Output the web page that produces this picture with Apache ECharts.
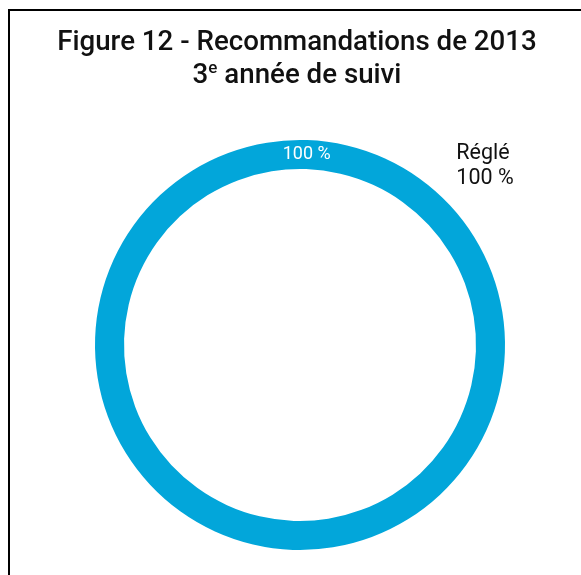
<!DOCTYPE html>
<html>
<head>
<meta charset="utf-8">
<script src="https://cdn.jsdelivr.net/npm/echarts@6/dist/echarts.min.js"></script>
<style>
html,body{margin:0;padding:0;background:#fff;}
#chart{width:581px;height:575px;}
</style>
</head>
<body>
<div id="chart"></div>
<script>
const categories = ['Réglé'];
const values = [100];
const percentLabels = ['100 %'];
const titleLines = ['Figure 12 - Recommandations de 2013', '3{sup|e} année de suivi'];
const ringColor = '#02A6DA';

const chart = echarts.init(document.getElementById('chart'), null, {renderer: 'canvas'});
const data = categories.map((c, i) => ({name: c, value: values[i], pct: percentLabels[i]}));

chart.setOption({
  animation: false,
  backgroundColor: '#fff',
  graphic: [{
    type: 'rect',
    shape: {x: 9, y: 10, width: 700, height: 700},
    style: {fill: 'none', stroke: '#000', lineWidth: 2},
    silent: true
  }],
  title: {
    text: titleLines.join('\n'),
    left: 292,
    top: 22,
    textAlign: 'center',
    textStyle: {
      fontFamily: 'Roboto',
      fontSize: 27.7,
      fontWeight: 500,
      color: '#111',
      lineHeight: 33,
      rich: {
        sup: {fontFamily: 'Roboto', fontSize: 17, fontWeight: 500, color: '#111', verticalAlign: 'top', lineHeight: 24}
      }
    }
  },
  series: [{
    type: 'pie',
    center: [300, 345],
    radius: [176, 205],
    startAngle: 268,
    silent: true,
    itemStyle: {color: ringColor},
    label: {
      show: true,
      position: 'inside',
      formatter: p => p.data.pct,
      color: '#fff',
      fontFamily: 'Roboto',
      fontSize: 18
    },
    labelLayout: {dy: 3},
    labelLine: {show: false},
    data: data
  }, {
    type: 'pie',
    center: [300, 345],
    radius: [176, 205],
    startAngle: 229.7,
    silent: true,
    avoidLabelOverlap: false,
    itemStyle: {color: 'rgba(0,0,0,0)'},
    label: {
      show: true,
      position: 'outside',
      formatter: p => p.name + '\n' + p.data.pct,
      color: '#111',
      fontFamily: 'Roboto',
      fontSize: 21.5,
      lineHeight: 25,
      align: 'left'
    },
    labelLine: {show: true, length: 29, length2: 0, lineStyle: {opacity: 0}},
    data: data
  }]
});
</script>
</body>
</html>
